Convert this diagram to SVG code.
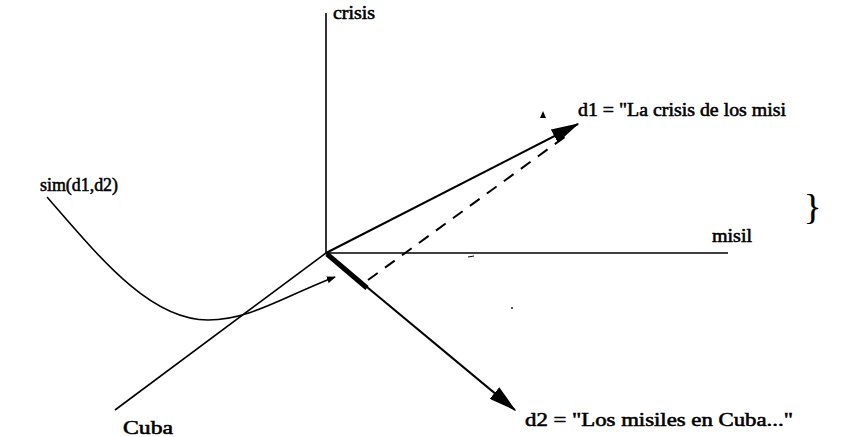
<svg xmlns="http://www.w3.org/2000/svg" width="860" height="437" viewBox="0 0 860 437">
<style>
text{font-family:"Liberation Serif","Times New Roman",serif;font-size:18px;font-weight:normal;fill:#000;stroke:#000;stroke-width:0.55;}
.ax{stroke:#000;stroke-width:1.6;fill:none;}
.vec{stroke:#000;stroke-width:2;fill:none;}
</style>
<defs>
<marker id="ah" viewBox="0 0 10 10" refX="9" refY="5" markerWidth="9" markerHeight="7" orient="auto" markerUnits="userSpaceOnUse" preserveAspectRatio="none"><path d="M0,0 L10,5 L0,10 z" fill="#000"/></marker>
<marker id="big" viewBox="0 0 10 10" refX="9.5" refY="5" markerWidth="28" markerHeight="15" orient="auto" markerUnits="userSpaceOnUse" preserveAspectRatio="none"><path d="M0,0 L10,5 L0,10 z" fill="#000"/></marker>
</defs>
<g id="connectors">
<line class="ax" x1="326" y1="13" x2="326" y2="254"/>
<line class="ax" x1="326" y1="253" x2="728" y2="253"/>
<line class="ax" x1="326" y1="253" x2="115" y2="410"/>
<line class="vec" x1="326" y1="253" x2="578" y2="124" marker-end="url(#big)"/>
<line class="vec" x1="326" y1="253" x2="515" y2="410" marker-end="url(#big)"/>
<line x1="327" y1="254" x2="367" y2="288" stroke="#000" stroke-width="5"/>
<line x1="368" y1="280" x2="566" y2="136" stroke="#000" stroke-width="2" stroke-dasharray="12,9"/>
<path class="ax" d="M47,197 C100,258 150,320 208,320 C250,320 285,296 335,277" marker-end="url(#ah)"/>
</g>
<g id="label-crisis"><text x="333" y="19" textLength="42" lengthAdjust="spacingAndGlyphs">crisis</text></g>
<g id="label-misil"><text x="712" y="242" textLength="40" lengthAdjust="spacingAndGlyphs">misil</text></g>
<g id="label-cuba"><text x="123" y="434" textLength="50" lengthAdjust="spacingAndGlyphs">Cuba</text></g>
<g id="label-sim"><text x="40" y="191" textLength="78" lengthAdjust="spacingAndGlyphs">sim(d1,d2)</text></g>
<g id="label-d1"><text x="578" y="116" textLength="208" lengthAdjust="spacingAndGlyphs">d1 = "La crisis de los misi</text></g>
<g id="label-d2"><text x="525" y="426" textLength="268" lengthAdjust="spacingAndGlyphs">d2 = "Los misiles en Cuba..."</text></g>
<g id="marks">
<path d="M540,118 L543,111 L546,118 z" fill="#000"/>
<line x1="468" y1="257" x2="474" y2="256" stroke="#000" stroke-width="1"/>
<circle cx="512" cy="308" r="0.9" fill="#000"/>
<text x="804" y="219" style="font-size:36px;stroke-width:0.3">}</text>
</g>
</svg>
